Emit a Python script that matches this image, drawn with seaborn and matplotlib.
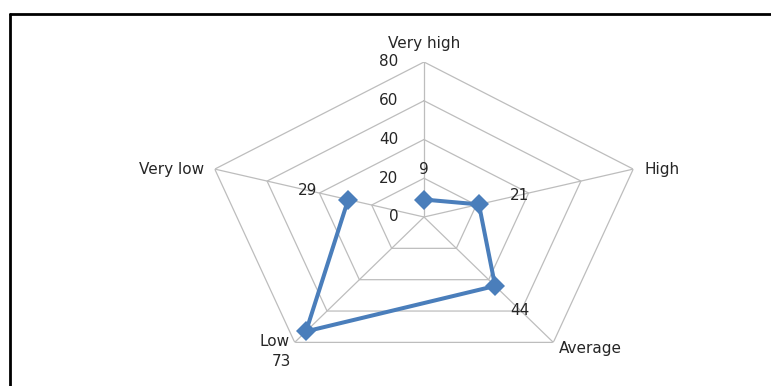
import numpy as np
import pandas as pd
import matplotlib
matplotlib.use("Agg")
import matplotlib.pyplot as plt
import seaborn as sns
from matplotlib.lines import Line2D

# Survey ratings shown on a five-axis radar chart
categories = ["Very high", "High", "Average", "Low", "Very low"]
values = [9, 21, 44, 73, 29]
r_ticks = [0, 20, 40, 60, 80]
r_max = 80

sns.set_theme(style="white")
plt.rcParams["font.family"] = ["DejaVu Sans"]

blue = "#4A7EBB"
grid_color = "#BDBDBD"
text_color = "#262626"
font_size = 11

theta = np.linspace(0, 2 * np.pi, len(categories), endpoint=False)
closed_theta = np.append(theta, theta[0])

df = pd.DataFrame({
    "angle": closed_theta,
    "value": values + values[:1],
})

fig = plt.figure(figsize=(7.71, 3.86), dpi=100)
ax = fig.add_axes([0.2646, 0.0363, 0.5707, 0.8031], projection="polar")
ax.set_theta_zero_location("N")
ax.set_theta_direction(-1)
ax.set_aspect("auto")
ax.patch.set_visible(False)

# Pentagon gridlines and spokes
for r in r_ticks[1:]:
    ax.plot(closed_theta, [r] * len(closed_theta), color=grid_color, lw=0.9, zorder=1)
for t in theta:
    ax.plot([t, t], [0, r_max], color=grid_color, lw=0.9, zorder=1)

sns.lineplot(data=df, x="angle", y="value", sort=False, ax=ax, color=blue,
             lw=2.9, marker="D", markersize=10, markeredgecolor=blue,
             markeredgewidth=0, zorder=3)

ax.set_ylim(0, r_max)
ax.grid(False)
ax.spines["polar"].set_visible(False)
ax.set_xticks([])
ax.set_yticks([])
ax.set_xlabel("")
ax.set_ylabel("")

# Radial tick labels along the top spoke
for r in r_ticks:
    ax.annotate(str(r), xy=(0, r), xytext=(-18.5, 0), textcoords="offset points",
                ha="right", va="center", fontsize=font_size, color=text_color)

# Category labels at the outer vertices
cat_offsets = [(0, 13.5, "center"), (8, 0, "left"), (4.3, -4.3, "left"),
               (-4, 0.5, "right"), (-8, 0, "right")]
for t, name, (dx, dy, ha) in zip(theta, categories, cat_offsets):
    ax.annotate(name, xy=(t, r_max), xytext=(dx, dy), textcoords="offset points",
                ha=ha, va="center", fontsize=font_size, color=text_color,
                annotation_clip=False)

# Value labels placed outward along each spoke
for t, v in zip(theta, values):
    ax.annotate(str(v), xy=(t, v + 15.5), xytext=(0, -4.5 if v == max(values) else 0),
                textcoords="offset points", ha="center", va="center",
                fontsize=font_size, color=text_color, annotation_clip=False)

# Chart frame (left and top edges)
x0 = 10 / 771
y0 = 1 - 14 / 386
fig.add_artist(Line2D([x0, x0], [0, y0], transform=fig.transFigure, color="black", lw=2))
fig.add_artist(Line2D([x0, 1], [y0, y0], transform=fig.transFigure, color="black", lw=2))

fig.savefig("out.png", dpi=100, facecolor="white")
